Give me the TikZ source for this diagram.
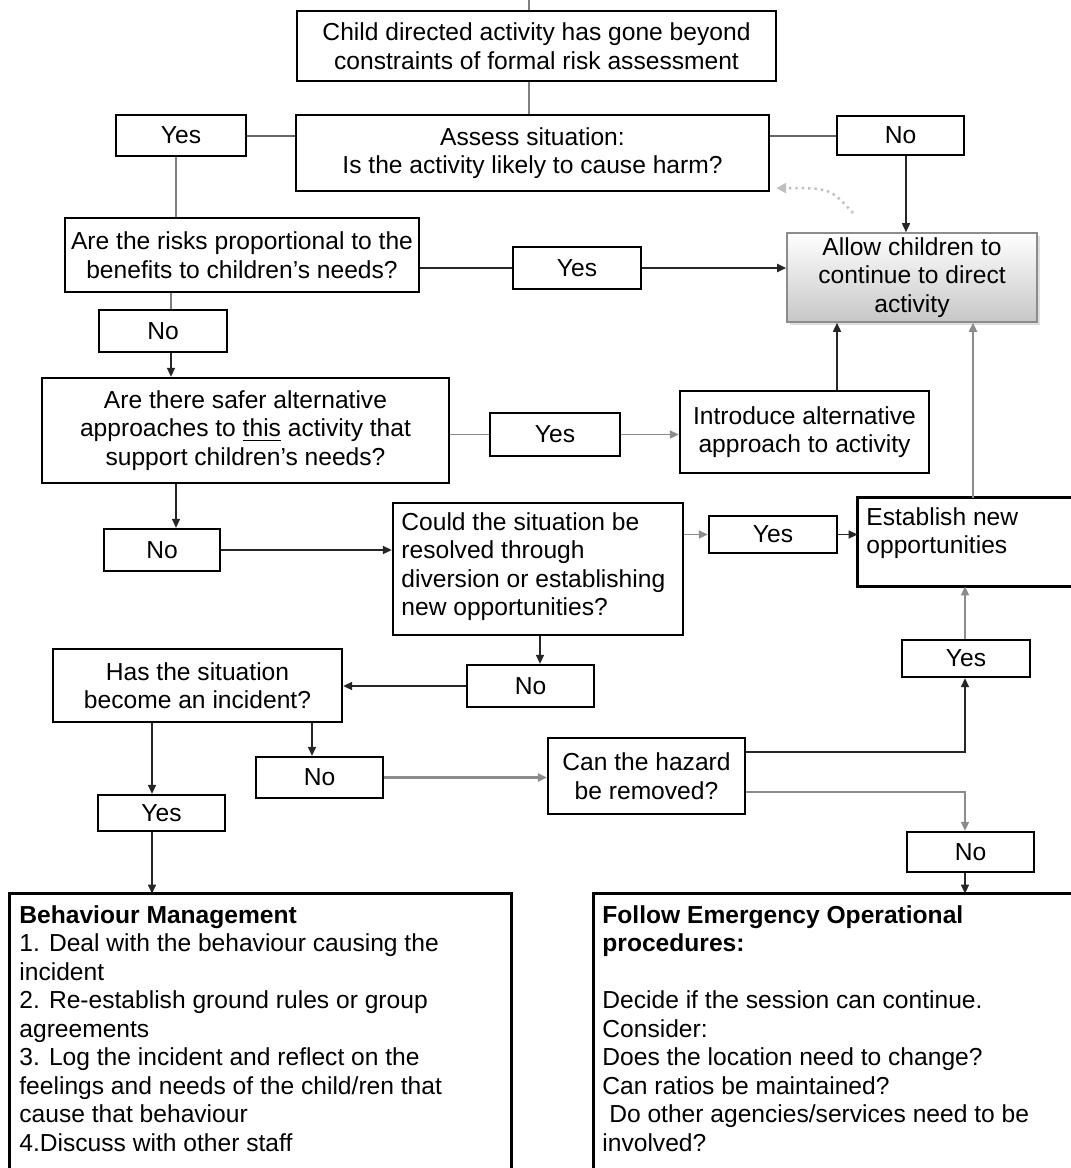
\documentclass[tikz,border=0pt]{standalone}
\usepackage{fontspec}
\setmainfont{Liberation Sans}
\usetikzlibrary{arrows.meta,fit,shadows}
\begin{document}
\begin{tikzpicture}[x=0.5pt,y=-0.5pt,
  font=\fontsize{12.3}{14.25}\selectfont,
  bx/.style={draw, line width=1.15pt, inner sep=0pt},
  obx/.style={inner sep=0pt},
  edge/.style={line width=1.15pt},
  lbl/.style={inner sep=0pt, align=center},
  conn/.style={line width=0.75pt, draw=black!85},
  gconn/.style={line width=0.9pt, draw=black!45},
  arr/.style={-{Triangle[length=4.5pt,width=4pt]}},
  txt/.style={inner sep=0pt, align=left, anchor=north west}]
\useasboundingbox (0,0) rectangle (1071,1168);
\fill[white] (0,0) rectangle (1071,1168);
\clip (0,0) rectangle (1071,1168);

% boxes
\node[bx, fit={(297,11) (776,81)}] (top) {};
\node[lbl] (top-t) at (top.center) {Child directed activity has gone beyond\\constraints of formal risk assessment};
\node[bx, fit={(296,115) (769,191)}] (assess) {};
\node[lbl] (assess-t) at (assess.center) {Assess situation:\\Is the activity likely to cause harm?};
\node[bx, fit={(116,115) (246,156)}] (yes1) {};
\node[lbl] (yes1-t) at (yes1.center) {Yes};
\node[bx, fit={(837,116) (964,155)}] (no1) {};
\node[lbl] (no1-t) at (no1.center) {No};
\node[bx, fit={(65,218) (419,292)}] (risks) {};
\node[lbl] (risks-t) at (risks.center) {Are the risks proportional to the\\benefits to children’s needs?};
\node[bx, fit={(513,247) (641,289)}] (yes2) {};
\node[lbl] (yes2-t) at (yes2.center) {Yes};
\node[draw=black!45, line width=0.8pt, inner sep=0pt, top color=white, bottom color=black!22,
      drop shadow={opacity=0.25, shadow xshift=1.5pt, shadow yshift=-1.5pt},
      fit={(787,233) (1037,322)}] (allow) {};
\node[lbl] (allow-t) at (allow.center) {Allow children to\\continue to direct\\activity};
\node[bx, fit={(99,310) (227,352)}] (no2) {};
\node[lbl] (no2-t) at (no2.center) {No};
\node[bx, fit={(42,378) (449,483)}] (safer) {};
\node[lbl] (safer-t) at (safer.center) {Are there safer alternative\\approaches to \underline{this} activity that\\support children’s needs?};
\node[bx, fit={(490,413) (620,456)}] (yes4) {};
\node[lbl] (yes4-t) at (yes4.center) {Yes};
\node[bx, fit={(680,391) (929,473)}] (intro) {};
\node[lbl] (intro-t) at (intro.center) {Introduce alternative\\approach to activity};
\node[bx, fit={(104,529) (220,571)}] (no3) {};
\node[lbl] (no3-t) at (no3.center) {No};
\node[bx, fit={(393,503) (683,635)}] (could) {};
\node[txt] (could-t) at (401,512) {Could the situation be\\resolved through\\diversion or establishing\\new opportunities?};
\node[bx, fit={(709,516) (837,553)}] (yes3) {};
\node[lbl] (yes3-t) at (yes3.center) {Yes};
\node[obx, fit={(858,498) (1090,586)}] (estab) {};
\draw[edge] (estab.north east) -- (estab.north west) -- (estab.south west) -- (estab.south east);
\node[txt] (estab-t) at (866,507) {Establish new\\opportunities};
\node[bx, fit={(467,665) (594,707)}] (no4) {};
\node[lbl] (no4-t) at (no4.center) {No};
\node[bx, fit={(53,649) (342,722)}] (has) {};
\node[lbl] (has-t) at (has.center) {Has the situation\\become an incident?};
\node[bx, fit={(256,757) (383,798)}] (no5) {};
\node[lbl] (no5-t) at (no5.center) {No};
\node[bx, fit={(98,795) (225,831)}] (yes5) {};
\node[lbl] (yes5-t) at (yes5.center) {Yes};
\node[bx, fit={(548,738) (745,814)}] (can) {};
\node[lbl] (can-t) at (can.center) {Can the hazard\\be removed?};
\node[bx, fit={(902,640) (1030,677)}] (yes6) {};
\node[lbl] (yes6-t) at (yes6.center) {Yes};
\node[bx, fit={(907,832) (1034,872)}] (no6) {};
\node[lbl] (no6-t) at (no6.center) {No};
\node[obx, fit={(10,894) (511,1190)}] (beh) {};
\draw[edge] (beh.south west) -- (beh.north west) -- (beh.north east) -- (beh.south east);
\node[txt] (beh-t) at (19,905) {\textbf{Behaviour Management}\\
1. Deal with the behaviour causing the\\
incident\\
2. Re-establish ground rules or group\\
agreements\\
3. Log the incident and reflect on the\\
feelings and needs of the child/ren that\\
cause that behaviour\\
4.Discuss with other staff};
\node[obx, fit={(594,894) (1090,1190)}] (follow) {};
\draw[edge] (follow.south west) -- (follow.north west) -- (follow.north east);
\node[txt] (follow-t) at (602,905) {\textbf{Follow Emergency Operational}\\
\textbf{procedures:}\\[14.25pt]
Decide if the session can continue.\\
Consider:\\
Does the location need to change?\\
Can ratios be maintained?\\
\hspace{0.28em}Do other agencies/services need to be\\
involved?};

% helper coordinates
\coordinate (stub) at (529,0);
\coordinate (xi) at (837,0);
\coordinate (xe) at (973,0);
\coordinate (xs) at (176,0);
\coordinate (xr) at (171,0);
\coordinate (xh1) at (152,0);
\coordinate (xh2) at (312,0);
\coordinate (xc) at (540,0);
\coordinate (xn) at (906,0);
\coordinate (xy) at (965,0);
\coordinate (g) at (853,213);

% connectors
\draw[conn, draw=black!50] (stub) -- (stub |- top.north);
\draw[conn, draw=black!50] (stub |- top.south) -- (stub |- assess.north);
\draw[conn, draw=black!60, line width=1pt] (yes1.east) -- (yes1.east -| assess.west);
\draw[conn, draw=black!60, line width=1pt] (assess.east |- no1.west) -- (no1.west);
\draw[conn, draw=black!50] (xs |- yes1.south) -- (xs |- risks.north);
\draw[conn, arr] (xn |- no1.south) -- (xn |- allow.north);
\draw[conn, line width=1pt] (yes2.west -| risks.east) -- (yes2.west);
\draw[conn, arr, line width=1pt] (yes2.east) -- (yes2.east -| allow.west);
\draw[conn, draw=black!50] (xr |- risks.south) -- (xr |- no2.north);
\draw[conn, arr] (xr |- no2.south) -- (xr |- safer.north);
\draw[gconn] (yes4.west -| safer.east) -- (yes4.west);
\draw[gconn, arr] (yes4.east) -- (yes4.east -| intro.west);
\draw[conn, arr] (xi |- intro.north) -- (xi |- allow.south);
\draw[gconn, arr] (xe |- estab.north) -- (xe |- allow.south);
\draw[conn, arr] (xs |- safer.south) -- (xs |- no3.north);
\draw[conn, arr] (no3.east) -- (no3.east -| could.west);
\draw[gconn, arr] (yes3.west -| could.east) -- (yes3.west);
\draw[conn, arr] (yes3.east) -- (yes3.east -| estab.west);
\draw[conn, arr] (xc |- could.south) -- (xc |- no4.north);
\draw[conn, arr] (no4.west) -- (no4.west -| has.east);
\draw[conn, arr] (xh2 |- has.south) -- (xh2 |- no5.north);
\draw[conn, arr] (xh1 |- has.south) -- (xh1 |- yes5.north);
\draw[conn, arr] (xh1 |- yes5.south) -- (xh1 |- beh.north);
\draw[gconn, arr, line width=1.2pt] (no5.east) -- (no5.east -| can.west);
\draw[conn, arr] ([yshift=12pt]can.east) -| (xy |- yes6.south);
\draw[gconn, arr] ([yshift=-8pt]can.east) -| (xy |- no6.north);
\draw[gconn, arr] (xy |- yes6.north) -- (xy |- estab.south);
\draw[conn, arr] (xy |- no6.south) -- (xy |- follow.north);
\draw[draw=black!25, dotted, line width=1.2pt, -{Triangle[length=5pt,width=5pt]}]
  (g) .. controls (830,188) .. ([xshift=3pt,yshift=2pt]assess.south east);
\end{tikzpicture}
\end{document}
